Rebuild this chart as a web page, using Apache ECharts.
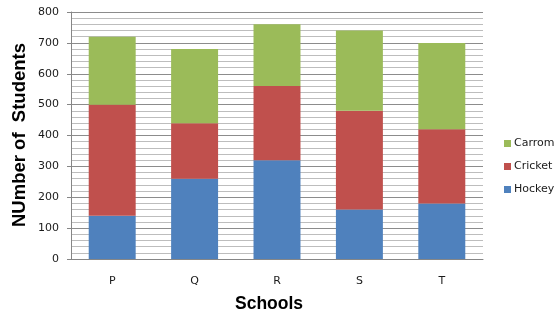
<!DOCTYPE html>
<html>
<head>
<meta charset="utf-8">
<script src="https://cdn.jsdelivr.net/npm/echarts@6/dist/echarts.min.js"></script>
<style>
  html, body { margin: 0; padding: 0; background: #fff; }
  #chart { width: 560px; height: 328px; }
</style>
</head>
<body>
<div id="chart"></div>
<script>
// Students per sport in each school
const schools = ['P', 'Q', 'R', 'S', 'T'];
const hockey  = [140, 260, 320, 160, 180];
const cricket = [360, 180, 240, 320, 240];
const carrom  = [220, 240, 200, 260, 280];
const yTicks  = { min: 0, max: 800, step: 100 };

const labelFont = 'DejaVu Sans';
const chart = echarts.init(document.getElementById('chart'), null, { renderer: 'canvas' });

function stackSeries(name, data, color) {
  return {
    name: name,
    type: 'bar',
    stack: 'total',
    data: data,
    barWidth: '57%',
    itemStyle: { color: color },
    emphasis: { disabled: true }
  };
}

chart.setOption({
  animation: false,
  backgroundColor: '#ffffff',
  grid: { left: 71, right: 77, top: 12, bottom: 69 },
  legend: {
    orient: 'vertical',
    left: 499,
    top: 133,
    itemWidth: 7,
    itemHeight: 7,
    itemGap: 12,
    icon: 'rect',
    data: ['Carrom', 'Cricket', 'Hockey'],
    textStyle: { fontFamily: labelFont, fontSize: 11, color: '#1a1a1a', padding: [0, 0, 0, -2] }
  },
  xAxis: {
    type: 'category',
    data: schools,
    axisLine: { lineStyle: { color: '#868686', width: 1 } },
    axisTick: { show: false },
    axisLabel: { fontFamily: labelFont, fontSize: 11, color: '#1a1a1a', margin: 17 }
  },
  yAxis: {
    type: 'value',
    min: yTicks.min,
    max: yTicks.max,
    interval: yTicks.step,
    axisLine: { show: true, lineStyle: { color: '#868686', width: 1 } },
    axisTick: { show: true, length: 4, lineStyle: { color: '#868686' } },
    axisLabel: { fontFamily: labelFont, fontSize: 11, color: '#1a1a1a', margin: 12 },
    splitLine: { show: true, lineStyle: { color: '#8c8c8c', width: 1 } },
    minorTick: { show: false, splitNumber: 5 },
    minorSplitLine: { show: true, lineStyle: { color: '#bdbdbd', width: 1 } }
  },
  graphic: [
    {
      type: 'text',
      left: 235,
      top: 295,
      style: { text: 'Schools', font: 'bold 17.5px "Liberation Sans", Arial, sans-serif', fill: '#000' }
    },
    {
      type: 'text',
      x: 20,
      y: 135,
      rotation: Math.PI / 2,
      style: {
        text: 'NUmber of  Students',
        font: 'bold 18.5px "Liberation Sans", Arial, sans-serif',
        fill: '#000',
        align: 'center',
        verticalAlign: 'middle'
      }
    }
  ],
  series: [
    stackSeries('Hockey', hockey, '#4F81BD'),
    stackSeries('Cricket', cricket, '#C0504D'),
    stackSeries('Carrom', carrom, '#9BBB59')
  ]
});
</script>
</body>
</html>
